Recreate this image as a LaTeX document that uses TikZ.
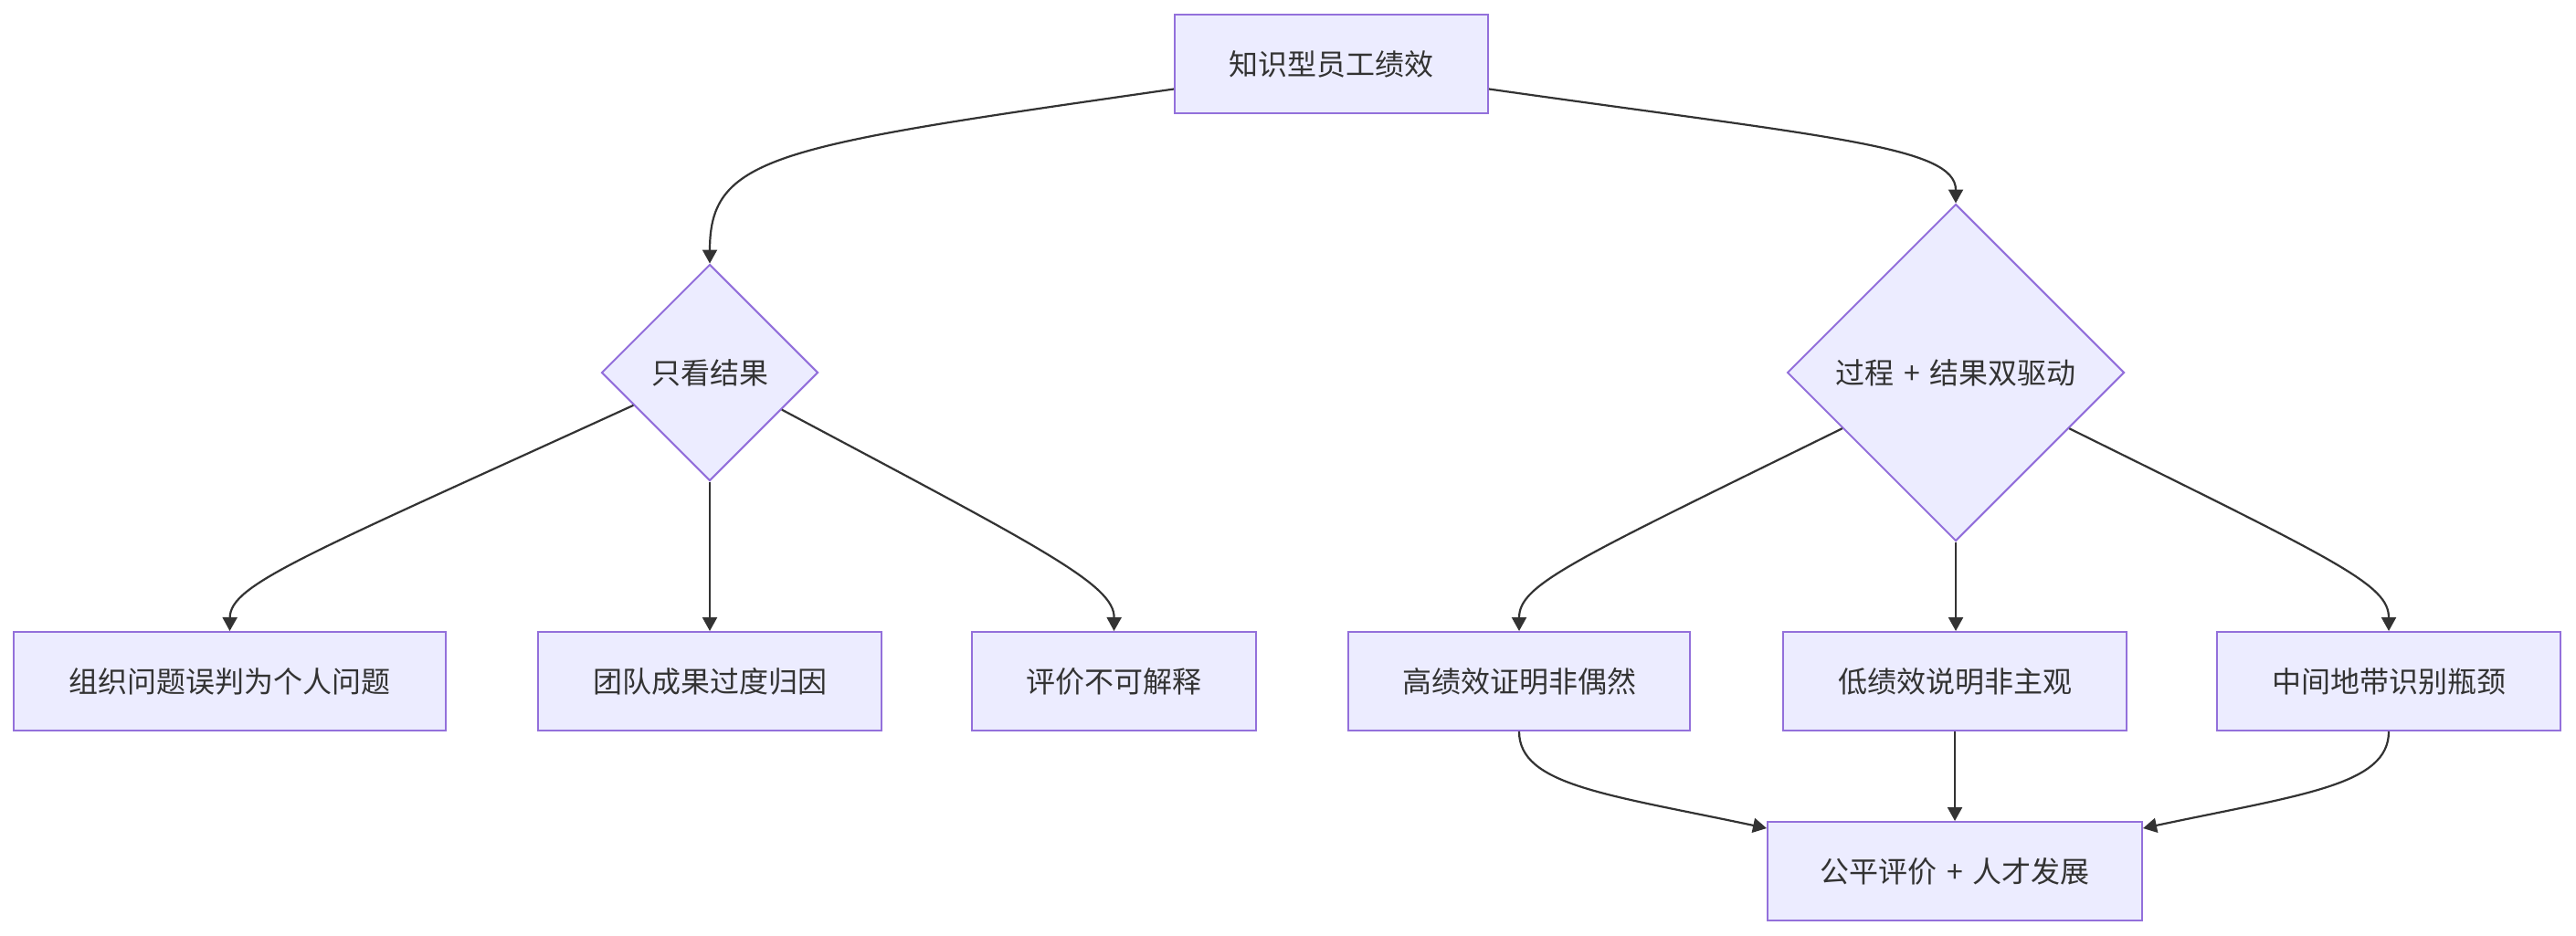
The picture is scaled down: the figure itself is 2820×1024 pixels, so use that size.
\documentclass[tikz,border=0pt]{standalone}
\usepackage{fontspec}
\setmainfont{Noto Sans CJK SC}
\usetikzlibrary{shapes.geometric,arrows.meta,calc}
\definecolor{nodefill}{HTML}{ECECFF}
\definecolor{nodeborder}{HTML}{9370DB}
\definecolor{linecol}{HTML}{333333}
\begin{document}
\begin{tikzpicture}[x=0.5pt,y=-0.5pt,
  box/.style={draw=nodeborder,fill=nodefill,line width=1pt,minimum height=54pt,inner sep=0pt,text=linecol,font=\fontsize{16pt}{19pt}\selectfont},
  dia/.style={shape=diamond,draw=nodeborder,fill=nodefill,line width=1pt,inner sep=0pt,aspect=1,text=linecol,font=\fontsize{16pt}{19pt}\selectfont},
  conn/.style={draw=linecol,line width=1.1pt,-{Triangle[width=8pt,length=7.5pt]}}]
\useasboundingbox (0,0) rectangle (2820,1024);
\fill[white] (0,0) rectangle (2820,1024);

\node[box,minimum width=171.5pt] (top) at (1457.5,70) {知识型员工绩效};
\node[dia,minimum width=118.5pt,minimum height=118.5pt] (d1) at (777,408) {只看结果};
\node[dia,minimum width=184.5pt,minimum height=184.5pt] (d2) at (2141,408) {过程\hspace{0.33em}+\hspace{0.33em}结果双驱动};

\node[box,minimum width=236.5pt] (b1) at (251.5,746) {组织问题误判为个人问题};
\node[box,minimum width=188pt] (b2) at (777,746) {团队成果过度归因};
\node[box,minimum width=155.5pt] (b3) at (1219.5,746) {评价不可解释};
\node[box,minimum width=187pt] (b4) at (1663,746) {高绩效证明非偶然};
\node[box,minimum width=188pt] (b5) at (2140,746) {低绩效说明非主观};
\node[box,minimum width=188pt] (b6) at (2615,746) {中间地带识别瓶颈};
\node[box,minimum width=205pt] (fin) at (2140,954) {公平评价\hspace{0.33em}+\hspace{0.33em}人才发展};

\coordinate (tl) at ($(top.south west)!0.25!(top.north west)$);
\coordinate (tr) at ($(top.south east)!0.25!(top.north east)$);
\coordinate (d1l) at ($(d1.west)!0.3!(d1.south)$);
\coordinate (d1r) at ($(d1.east)!0.34!(d1.south)$);
\coordinate (d2l) at ($(d2.west)!0.33!(d2.south)$);
\coordinate (d2r) at ($(d2.east)!0.33!(d2.south)$);
\coordinate (fl) at ($(fin.north west)+(0,8)$);
\coordinate (fr) at ($(fin.north east)+(0,8)$);

\draw[conn] (tl) .. controls (850,160) and (777,170) .. (d1.north);
\draw[conn] (tr) .. controls (2000,150) and (2141,160) .. (d2.north);

\draw[conn] (d1l) .. controls (330,610) and (252,640) .. (b1.north);
\draw[conn] (d1.south) -- (b2.north);
\draw[conn] (d1r) .. controls (1140,600) and (1220,640) .. (b3.north);

\draw[conn] (d2l) .. controls (1720,615) and (1663,640) .. (b4.north);
\draw[conn] (d2.south) -- (b5.north -| d2.south);
\draw[conn] (d2r) .. controls (2560,615) and (2615,640) .. (b6.north);

\draw[conn] (b4.south) .. controls (1663,860) and (1760,870) .. (fl);
\draw[conn] (b5.south) -- (fin.north);
\draw[conn] (b6.south) .. controls (2615,860) and (2520,870) .. (fr);
\end{tikzpicture}
\end{document}
